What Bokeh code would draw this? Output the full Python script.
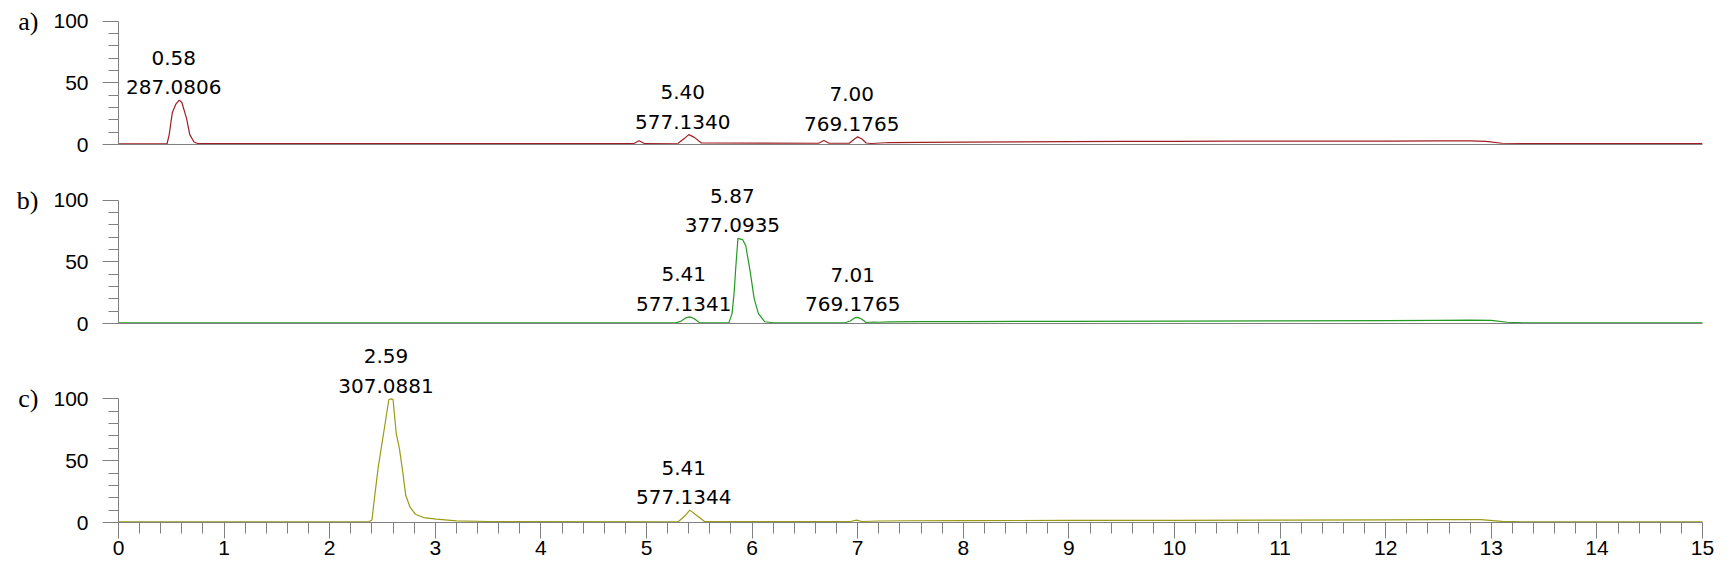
from bokeh.plotting import figure
from bokeh.models import LinearAxis, FixedTicker, Range1d, ColumnDataSource
from bokeh.layouts import column
from bokeh.embed import file_html
from bokeh.resources import INLINE
from bokeh.core.properties import value

# ---------------- data ----------------
# panel a (red trace)
a_time = [0.00, 0.46, 0.48, 0.51, 0.545, 0.575, 0.60, 0.645, 0.675, 0.715, 0.75,
          4.88, 4.93, 4.98, 5.30, 5.36, 5.40, 5.45, 5.52, 6.63, 6.68, 6.73,
          6.92, 6.97, 7.00, 7.04, 7.08, 7.13, 7.30, 7.60, 8.00, 8.50, 9.00, 9.50,
          10.00, 10.50, 11.00, 11.50, 12.00, 12.50, 12.80, 12.95, 13.10, 13.30, 15.00]
a_int = [0.6, 0.6, 8, 26, 33, 36, 34, 21, 8, 2, 0.8,
         0.8, 3.0, 0.8, 1.0, 5, 8, 6, 1.2, 1.0, 3.2, 1.0,
         1.0, 4.5, 6.2, 4.5, 1.2, 0.8, 1.6, 1.8, 2.0, 2.2, 2.4, 2.6,
         2.6, 2.7, 2.7, 2.8, 2.8, 3.0, 3.0, 2.6, 1.0, 0.8, 0.8]
a_rt = ["0.58", "5.40", "7.00"]
a_mz = ["287.0806", "577.1340", "769.1765"]
a_peak_t = [0.58, 5.40, 7.00]
a_peak_i = [35.7, 8.1, 6.2]

# panel b (green trace)
b_time = [0.00, 5.28, 5.33, 5.37, 5.41, 5.45, 5.50, 5.78, 5.81, 5.83, 5.845, 5.866,
          5.91, 5.94, 5.98, 6.02, 6.06, 6.12, 6.20, 6.88, 6.93, 6.97, 7.00, 7.04,
          7.08, 7.15, 7.20, 7.30, 7.60, 8.00, 9.00, 10.00, 11.00, 12.00, 12.50,
          12.80, 13.00, 13.15, 13.30, 15.00]
b_int = [0.5, 0.5, 2, 4.5, 5.4, 4, 0.8, 0.5, 8, 25, 45, 69,
         68, 63, 43, 20, 8, 1.4, 0.6, 0.6, 2, 4.5, 5, 3.5,
         0.8, 1.2, 1.0, 1.3, 1.5, 1.6, 1.8, 2.0, 2.1, 2.3, 2.6,
         2.8, 2.5, 1.0, 0.5, 0.5]
b_rt = ["5.41", "5.87", "7.01"]
b_mz = ["577.1341", "377.0935", "769.1765"]
b_peak_t = [5.41, 5.87, 7.01]
b_peak_i = [5.4, 69, 5.0]

# panel c (olive trace)
c_time = [0.00, 2.37, 2.40, 2.42, 2.46, 2.51, 2.56, 2.59, 2.60, 2.63, 2.66, 2.69,
          2.72, 2.76, 2.81, 2.89, 3.01, 3.20, 3.50, 5.30, 5.36, 5.41, 5.47, 5.55,
          6.93, 6.99, 7.04, 7.20, 7.50, 8.00, 9.00, 10.00, 11.00, 12.00, 12.50,
          12.90, 13.10, 13.30, 15.00]
c_int = [0.6, 0.6, 2, 17, 45, 72, 99.5, 100, 99.5, 72, 60, 42,
         22, 12.6, 6.7, 4, 2.7, 1.3, 0.8, 0.6, 5, 10, 6, 0.8,
         0.8, 1.9, 0.8, 1.2, 1.4, 1.5, 1.7, 1.8, 2.0, 2.2, 2.3,
         2.3, 0.9, 0.6, 0.6]
c_rt = ["2.59", "5.41"]
c_mz = ["307.0881", "577.1344"]
c_peak_t = [2.59, 5.41]
c_peak_i = [100, 10]

panel_letters = ["a)", "b)", "c)"]
x_major_ticks = list(range(0, 16))
x_minor_ticks = [i / 5 for i in range(0, 76)]
y_major_ticks = [0, 50, 100]
y_minor_ticks = [10, 20, 30, 40, 60, 70, 80, 90]

AXIS_GRAY = "#808080"
FRAME_W = 1584   # 118 + 1584 + 12 = 1714 px total width


def make_panel(t, v, color, rts, mzs, pk_t, pk_i, letter, frame_h, y_end,
               last, bottom_border):
    p = figure(frame_width=FRAME_W, frame_height=frame_h,
               x_range=Range1d(0, 15), y_range=Range1d(0, y_end),
               output_backend="svg", toolbar_location=None,
               x_axis_type=None, y_axis_type=None, title=None,
               min_border_left=118, min_border_right=12,
               min_border_top=0, min_border_bottom=bottom_border)
    p.outline_line_color = None
    p.background_fill_color = "white"
    p.border_fill_color = "white"

    yax = LinearAxis(ticker=FixedTicker(ticks=y_major_ticks, minor_ticks=y_minor_ticks),
                     bounds=(0, 100))
    yax.axis_line_color = AXIS_GRAY
    yax.major_tick_line_color = AXIS_GRAY
    yax.minor_tick_line_color = AXIS_GRAY
    yax.major_tick_in = 0
    yax.major_tick_out = 16
    yax.minor_tick_in = 0
    yax.minor_tick_out = 10
    yax.major_label_standoff = 14
    yax.major_label_text_font = "Liberation Sans"
    yax.major_label_text_font_size = "21px"
    yax.major_label_text_color = "black"
    p.add_layout(yax, "left")

    # panel letter, shown as the only label of an outer, line-less axis
    lax = LinearAxis(ticker=FixedTicker(ticks=[100], minor_ticks=[]),
                     major_label_overrides={100: letter})
    lax.axis_line_color = None
    lax.major_tick_line_color = None
    lax.minor_tick_line_color = None
    lax.major_tick_in = 0
    lax.major_tick_out = 0
    lax.minor_tick_in = 0
    lax.minor_tick_out = 0
    lax.major_label_standoff = 12
    lax.major_label_text_font = "Liberation Serif"
    lax.major_label_text_font_size = "26px"
    lax.major_label_text_color = "black"
    p.add_layout(lax, "left")

    if last:
        xax = LinearAxis(ticker=FixedTicker(ticks=x_major_ticks, minor_ticks=x_minor_ticks),
                         bounds=(0, 15))
        xax.major_tick_out = 16
        xax.minor_tick_out = 11
        xax.major_label_standoff = 2
        xax.major_label_text_font = "Liberation Sans"
        xax.major_label_text_font_size = "21px"
        xax.major_label_text_color = "black"
    else:
        xax = LinearAxis(ticker=FixedTicker(ticks=[]), bounds=(0, 15))
        xax.major_tick_out = 0
        xax.minor_tick_out = 0
        xax.major_label_standoff = 0
    xax.axis_line_color = AXIS_GRAY
    xax.major_tick_line_color = AXIS_GRAY
    xax.minor_tick_line_color = AXIS_GRAY
    xax.major_tick_in = 0
    xax.minor_tick_in = 0
    p.add_layout(xax, "below")

    p.line(t, v, line_color=color, line_width=1.2)

    src = ColumnDataSource(dict(x=pk_t, y=pk_i,
                                text=[f"{r}\n{m}" for r, m in zip(rts, mzs)]))
    p.text(x="x", y="y", text="text", source=src, text_align="center",
           text_baseline="bottom", x_offset=-6, y_offset=-1,
           text_font=value("DejaVu Sans"), text_font_size="20px",
           text_line_height=1.23, text_color="black")
    return p


pa = make_panel(a_time, a_int, "#A01E23", a_rt, a_mz, a_peak_t, a_peak_i,
                panel_letters[0], 144, 144 / 1.234, False, 14)
pb = make_panel(b_time, b_int, "#229922", b_rt, b_mz, b_peak_t, b_peak_i,
                panel_letters[1], 165, 165 / 1.234, False, 12)
pc = make_panel(c_time, c_int, "#9A9A14", c_rt, c_mz, c_peak_t, c_peak_i,
                panel_letters[2], 187, 187 / 1.236, True, 0)

layout = column(pa, pb, pc, spacing=0)
open("out.html", "w").write(file_html(layout, INLINE))
